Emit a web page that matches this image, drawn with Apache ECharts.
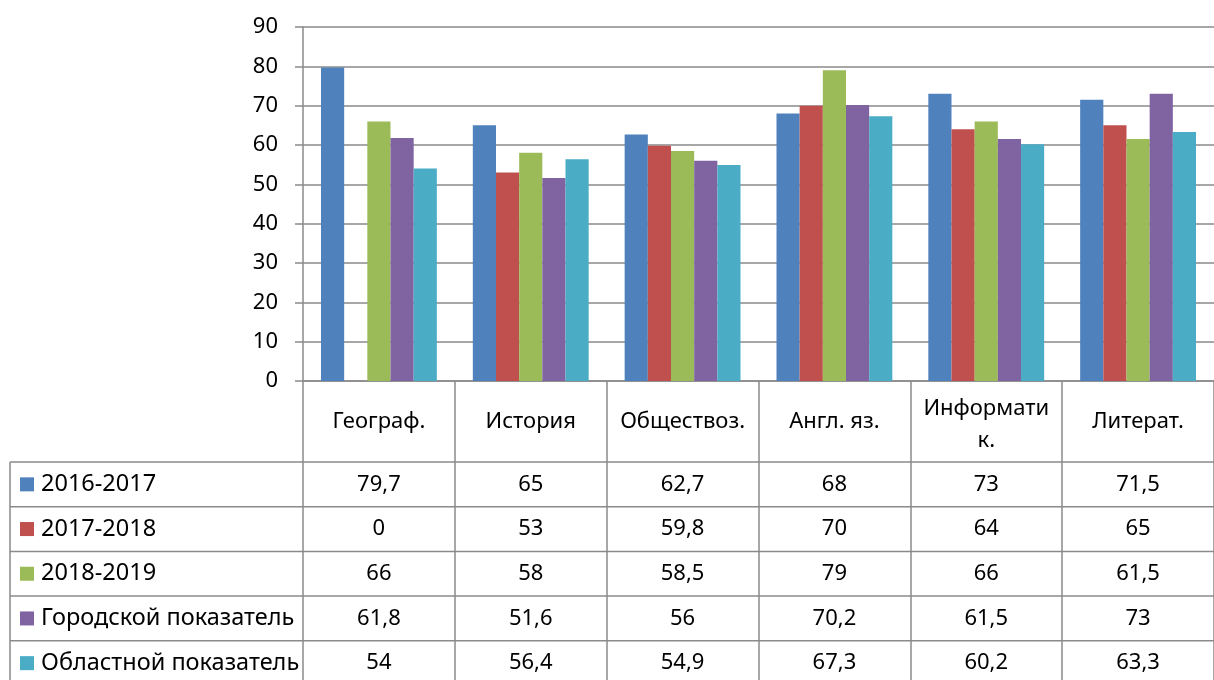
<!DOCTYPE html>
<html>
<head>
<meta charset="utf-8">
<script src="https://cdn.jsdelivr.net/npm/echarts@6/dist/echarts.min.js"></script>
<style>
  html, body { margin: 0; padding: 0; background: #fff; }
  #main { width: 1214px; height: 680px; }
</style>
</head>
<body>
<div id="main"></div>
<script>
// предметы (заголовки столбцов таблицы)
const subjects = ['Географ.', 'История', 'Обществоз.', 'Англ. яз.', 'Информати\nк.', 'Литерат.'];
// ряды
const seriesNames = ['2016-2017', '2017-2018', '2018-2019', 'Городской показатель', 'Областной показатель'];
const y2016 = [79.7, 65, 62.7, 68, 73, 71.5];
const y2017 = [0, 53, 59.8, 70, 64, 65];
const y2018 = [66, 58, 58.5, 79, 66, 61.5];
const city = [61.8, 51.6, 56, 70.2, 61.5, 73];
const region = [54, 56.4, 54.9, 67.3, 60.2, 63.3];
const yTicks = [0, 10, 20, 30, 40, 50, 60, 70, 80, 90];

const seriesValues = [y2016, y2017, y2018, city, region];
const colors = ['#4F81BD', '#C0504D', '#9BBB59', '#8064A2', '#4BACC6'];
const lineColor = '#8a8a8a';
const font = 'Noto Sans';

// размеры таблицы
const gridLeft = 303, gridTop = 27, axisY = 381;
const headerH = 81, rowH = 44.7, tableLeft = 10;

const chartDom = document.getElementById('main');
const myChart = echarts.init(chartDom);

function fmt(v) {
  return String(v).replace('.', ',');
}

function cellLabel(name, idx) {
  const parts = name.split('\n');
  let s;
  if (parts.length > 1) {
    s = '{h2a|' + parts[0] + '}\n{h2b|' + parts[1] + '}';
  } else {
    s = '{h|' + name + '}';
  }
  seriesValues.forEach(arr => { s += '\n{v|' + fmt(arr[idx]) + '}'; });
  return s;
}

// линии таблицы
const tableLines = [];
let yy = axisY + headerH;
for (let i = 0; i < seriesNames.length + 1; i++) {
  tableLines.push({
    type: 'line',
    shape: { x1: tableLeft, y1: yy, x2: 1214, y2: yy },
    style: { stroke: lineColor, lineWidth: 1.5 },
    silent: true
  });
  yy += rowH;
}
tableLines.push({
  type: 'line',
  shape: { x1: tableLeft, y1: axisY + headerH, x2: tableLeft, y2: yy },
  style: { stroke: lineColor, lineWidth: 1.5 },
  silent: true
});

const fs = 22;

const option = {
  animation: false,
  textStyle: { fontFamily: font },
  color: colors,
  grid: { left: gridLeft, top: gridTop, right: -11, bottom: 680 - axisY, containLabel: false },
  legend: {
    orient: 'vertical',
    left: 20,
    top: axisY + headerH + rowH / 2 - 12.5,
    height: 400,
    padding: 0,
    itemWidth: 14,
    itemHeight: 14,
    itemGap: rowH - 25,
    icon: 'rect',
    data: seriesNames,
    textStyle: { fontFamily: font, fontSize: 23.5, color: '#000', lineHeight: 25, padding: [0, 0, 0, 2] }
  },
  xAxis: {
    type: 'category',
    data: subjects,
    axisLine: { lineStyle: { color: lineColor, width: 1.5 } },
    axisTick: { show: true, interval: 0, length: 320, lineStyle: { color: lineColor, width: 1.5 } },
    axisLabel: {
      interval: 0,
      margin: 0,
      formatter: (val, idx) => cellLabel(val, idx),
      rich: {
        h: { fontFamily: font, fontSize: fs, color: '#000', lineHeight: headerH },
        h2a: { fontFamily: font, fontSize: fs, color: '#000', lineHeight: 39, verticalAlign: 'bottom' },
        h2b: { fontFamily: font, fontSize: fs, color: '#000', lineHeight: headerH - 39, verticalAlign: 'middle' },
        v: { fontFamily: font, fontSize: fs, color: '#000', lineHeight: rowH }
      }
    }
  },
  yAxis: {
    type: 'value',
    min: yTicks[0],
    max: yTicks[yTicks.length - 1],
    interval: 10,
    axisLine: { show: true, lineStyle: { color: lineColor, width: 1.5 } },
    axisTick: { show: true, length: 8, lineStyle: { color: lineColor, width: 1.5 } },
    splitLine: { lineStyle: { color: lineColor, width: 1.5 } },
    axisLabel: { fontFamily: font, fontSize: fs, color: '#000', margin: 25 }
  },
  graphic: tableLines,
  series: seriesNames.map((name, i) => ({
    name: name,
    type: 'bar',
    data: seriesValues[i],
    barGap: 0,
    barCategoryGap: '23.7%',
    itemStyle: { color: colors[i] }
  }))
};

myChart.setOption(option);
</script>
</body>
</html>
